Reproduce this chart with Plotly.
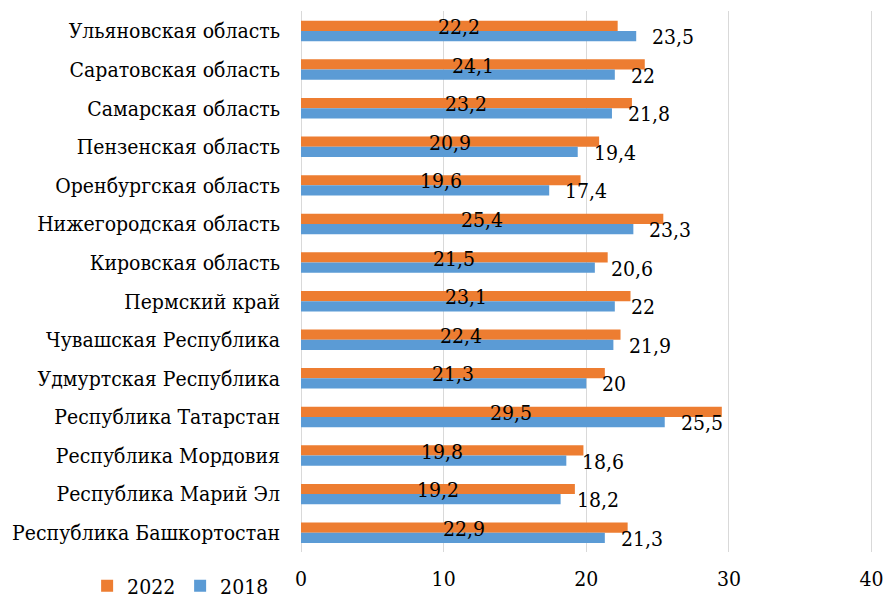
import plotly.graph_objects as go

regions = [
    "Ульяновская область",
    "Саратовская область",
    "Самарская область",
    "Пензенская область",
    "Оренбургская область",
    "Нижегородская область",
    "Кировская область",
    "Пермский край",
    "Чувашская Республика",
    "Удмуртская Республика",
    "Республика Татарстан",
    "Республика Мордовия",
    "Республика Марий Эл",
    "Республика Башкортостан",
]
v2022 = [22.2, 24.1, 23.2, 20.9, 19.6, 25.4, 21.5, 23.1, 22.4, 21.3, 29.5, 19.8, 19.2, 22.9]
v2018 = [23.5, 22.0, 21.8, 19.4, 17.4, 23.3, 20.6, 22.0, 21.9, 20.0, 25.5, 18.6, 18.2, 21.3]
x_ticks = [0, 10, 20, 30, 40]


def fmt(v):
    return ("%g" % v).replace(".", ",")


FONT = "DejaVu Serif Condensed"
FS = 21
ORANGE = "#ED7D31"
BLUE = "#5B9BD5"

fig = go.Figure()
fig.add_trace(go.Bar(
    name="2022", y=regions, x=v2022, orientation="h",
    marker=dict(color=ORANGE, line=dict(width=0)),
    hoverinfo="x+y",
))
fig.add_trace(go.Bar(
    name="2018", y=regions, x=v2018, orientation="h",
    marker=dict(color=BLUE, line=dict(width=0)),
    hoverinfo="x+y",
))

for r, v in zip(regions, v2022):
    fig.add_annotation(
        x=v / 2, y=r, xref="x", yref="y", text=fmt(v), showarrow=False,
        xanchor="center", yanchor="middle", yshift=4,
        font=dict(family=FONT, size=FS, color="black"),
    )
for r, v in zip(regions, v2018):
    fig.add_annotation(
        x=v, y=r, xref="x", yref="y", text=fmt(v), showarrow=False,
        xanchor="left", yanchor="middle", xshift=14, yshift=-6,
        font=dict(family=FONT, size=FS, color="black"),
    )

fig.update_layout(
    width=889, height=598,
    margin=dict(l=301, r=16, t=11, b=46),
    paper_bgcolor="white", plot_bgcolor="white",
    barmode="group", bargap=0.47, bargroupgap=0,
    font=dict(family=FONT, size=FS, color="black"),
    showlegend=True,
    legend=dict(
        orientation="h", xref="container", yref="container",
        x=0.098, xanchor="left", y=0.02, yanchor="middle",
        entrywidthmode="pixels", entrywidth=48,
        font=dict(family=FONT, size=FS, color="black"),
        bgcolor="rgba(0,0,0,0)", traceorder="normal",
    ),
    xaxis=dict(
        range=[0, 40.1], tickvals=x_ticks, ticktext=[str(t) for t in x_ticks],
        showgrid=True, gridcolor="#D9D9D9", gridwidth=1.3,
        zeroline=True, zerolinecolor="#D9D9D9", zerolinewidth=1.3,
        showline=False, ticks="", ticklabelstandoff=12,
        tickfont=dict(family=FONT, size=FS, color="black"),
        fixedrange=True, automargin=False,
    ),
    yaxis=dict(
        autorange="reversed", type="category",
        showgrid=False, zeroline=False, showline=False, ticks="",
        ticklabelstandoff=20,
        tickfont=dict(family=FONT, size=FS, color="black"),
        fixedrange=True, automargin=False,
    ),
)

fig.write_html(
    "out.html",
    config={"displayModeBar": False},
    post_script="document.body.style.margin='0px';document.body.style.overflow='hidden';",
)
